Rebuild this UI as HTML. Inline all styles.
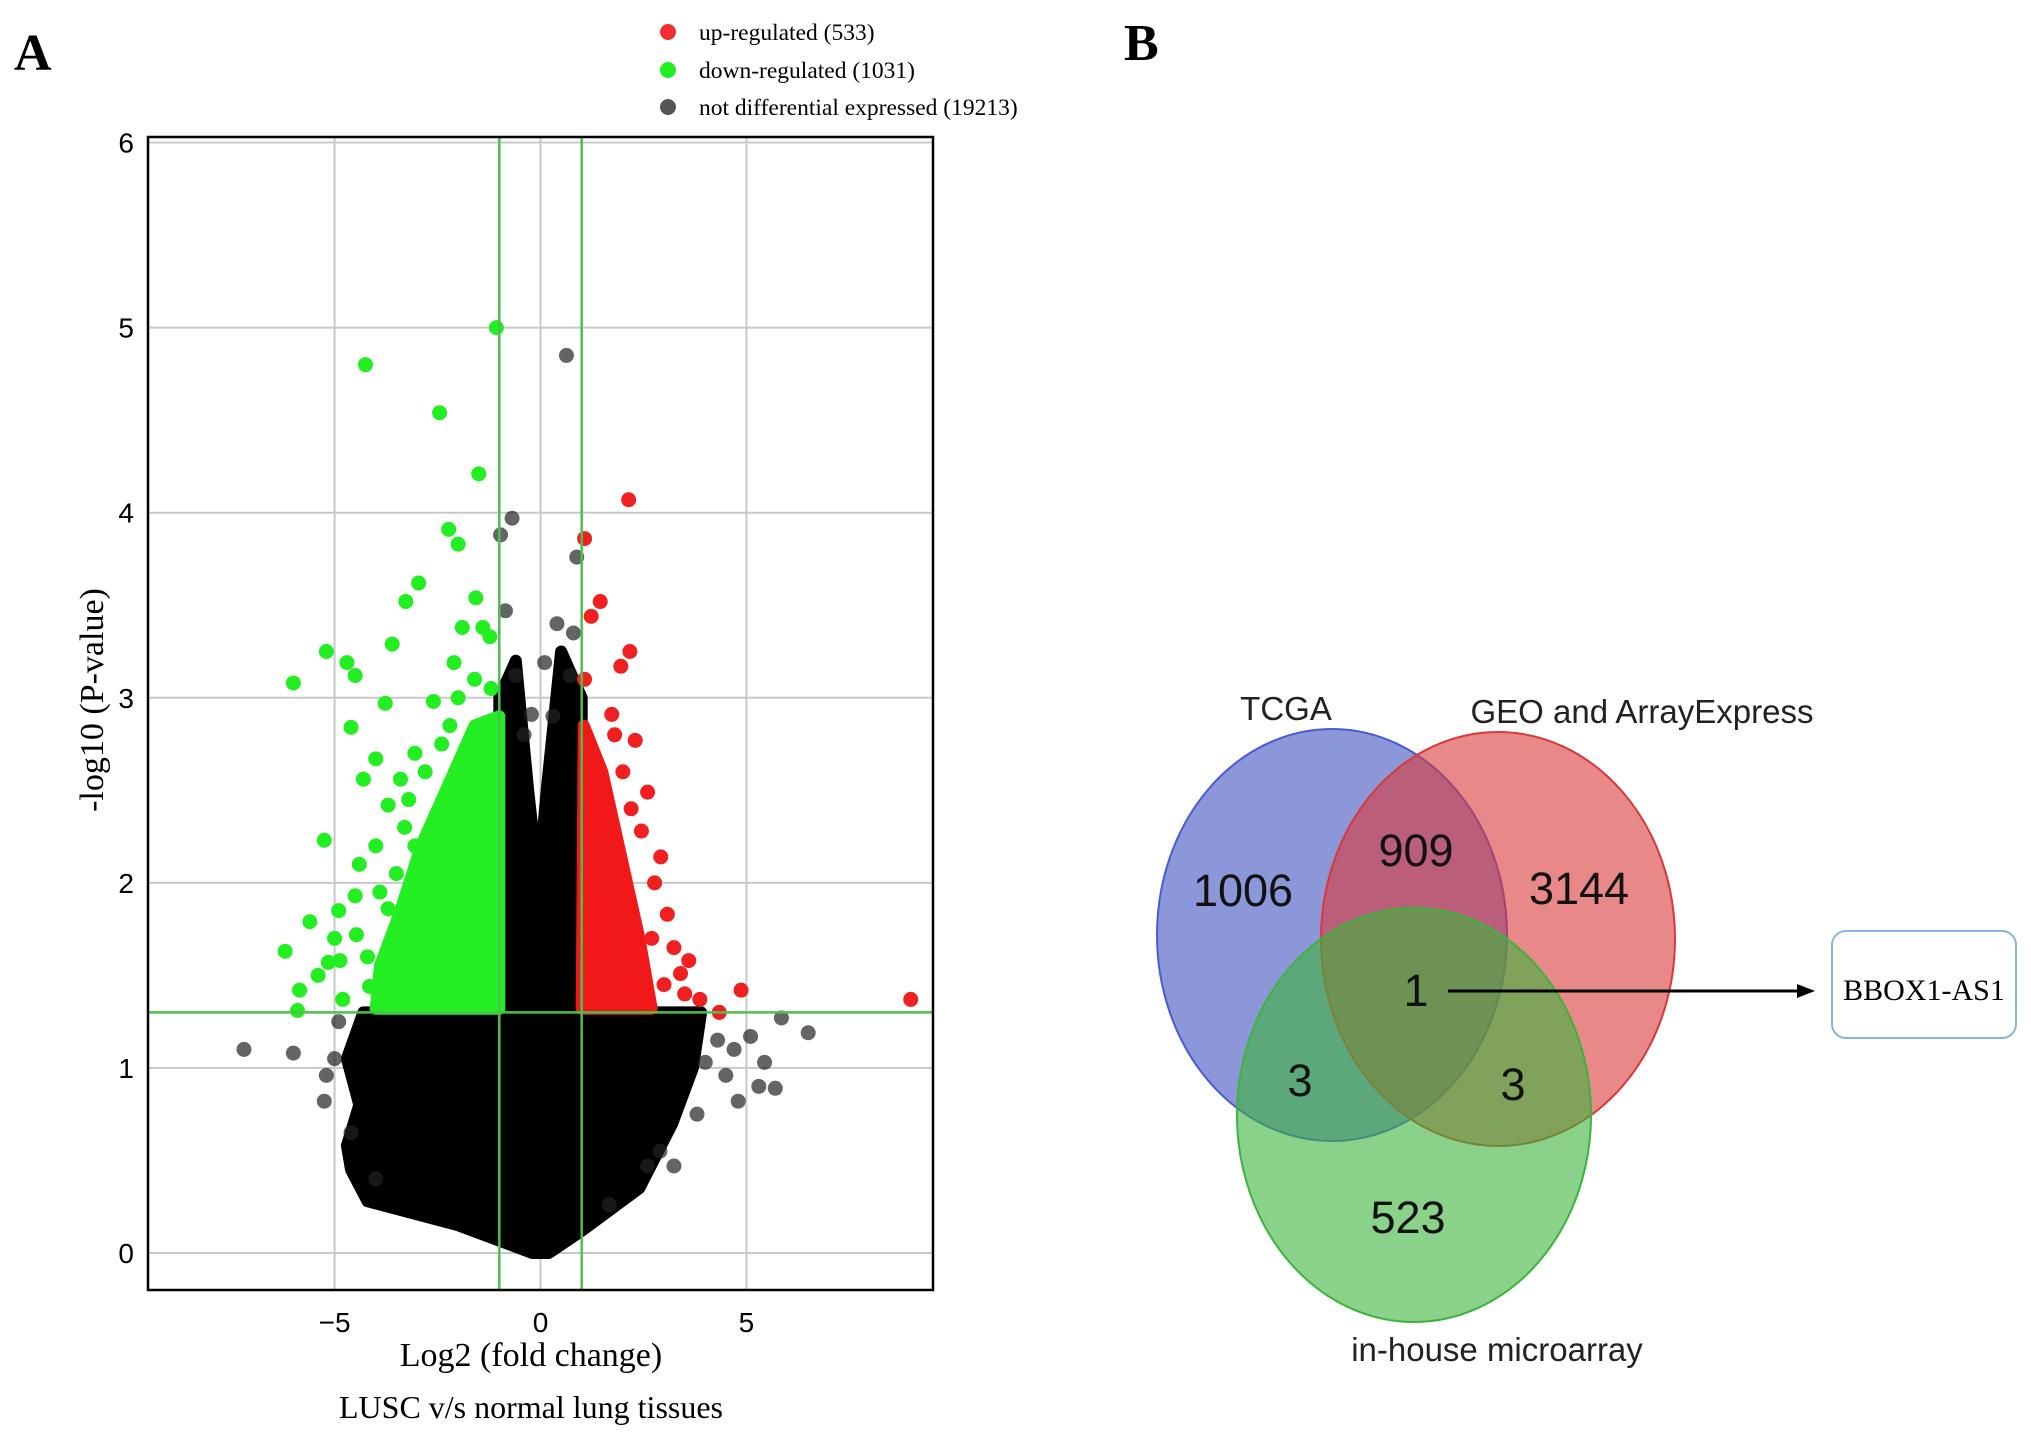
<!DOCTYPE html>
<html><head><meta charset="utf-8"><style>
html,body{margin:0;padding:0;background:#fff}
svg{display:block}
</style></head><body>
<svg id="fig" width="2031" height="1440" viewBox="0 0 2031 1440" xmlns="http://www.w3.org/2000/svg">
<text x="14" y="70" font-family="Liberation Serif, serif" font-weight="bold" font-size="52">A</text>
<text x="1124" y="60" font-family="Liberation Serif, serif" font-weight="bold" font-size="52">B</text>
<g id="legend" font-family="Liberation Serif, serif" font-size="23.5">
 <g><circle cx="668" cy="32" r="8" fill="#f03030"/><text x="699" y="40">up-regulated (533)</text></g>
 <g><circle cx="668" cy="70" r="8" fill="#22ee22"/><text x="699" y="78">down-regulated (1031)</text></g>
 <g><circle cx="668" cy="107" r="8" fill="#555"/><text x="699" y="115">not differential expressed (19213)</text></g>
</g>
<g id="plot"></g>
<text transform="translate(103,700) rotate(-90)" text-anchor="middle" font-family="Liberation Serif, serif" font-size="34">-log10 (P-value)</text>
<text x="531" y="1366" text-anchor="middle" font-family="Liberation Serif, serif" font-size="34">Log2 (fold change)</text>
<text x="531" y="1418" text-anchor="middle" font-family="Liberation Serif, serif" font-size="32">LUSC v/s normal lung tissues</text>

<g id="venn">
 <ellipse cx="1332" cy="935" rx="175" ry="206" fill="#3f51c0" fill-opacity="0.6" stroke="#4a5ad0" stroke-width="2"/>
 <ellipse cx="1498" cy="939" rx="177" ry="207" fill="#d83838" fill-opacity="0.6" stroke="#d83838" stroke-width="2"/>
 <ellipse cx="1414" cy="1115" rx="177" ry="207" fill="#3cb43c" fill-opacity="0.6" stroke="#3cb43c" stroke-width="2"/>
 <g font-family="Liberation Sans, sans-serif" font-size="33" fill="#222">
  <text x="1286" y="720" text-anchor="middle">TCGA</text>
  <text x="1642" y="723" text-anchor="middle">GEO and ArrayExpress</text>
  <text x="1497" y="1361" text-anchor="middle">in-house microarray</text>
 </g>
 <g font-family="Liberation Sans, sans-serif" font-size="45" fill="#111" text-anchor="middle">
  <text x="1243" y="906">1006</text>
  <text x="1416" y="866">909</text>
  <text x="1579" y="904">3144</text>
  <text x="1416" y="1006">1</text>
  <text x="1300" y="1096">3</text>
  <text x="1513" y="1100">3</text>
  <text x="1408" y="1233">523</text>
 </g>
 <line x1="1448" y1="991" x2="1800" y2="991" stroke="#000" stroke-width="3"/>
 <polygon points="1815,991 1797,984 1797,998" fill="#000"/>
 <rect x="1832" y="931" width="184" height="107" rx="14" fill="#fff" stroke="#8ab4dc" stroke-width="2"/>
 <text x="1924" y="1000" text-anchor="middle" font-family="Liberation Serif, serif" font-size="30">BBOX1-AS1</text>
</g>
</svg>
<script>
const xTicks=[-5,0,5];
const yTicks=[0,1,2,3,4,5,6];
const blackEnvelope=[[-0.2,0],[-2,0.15],[-4.2,0.28],[-4.6,0.45],[-4.7,0.58],[-4.4,0.8],[-4.7,1.05],[-4.3,1.3],[-1,1.3],[-1,3.0],[-0.6,3.2],[-0.3,2.5],[-0.05,2.0],[0.15,2.5],[0.5,3.25],[1,3.0],[1,1.3],[3.9,1.3],[3.7,1.0],[3.2,0.7],[2.4,0.35],[1.0,0.12],[0.2,0]];
const greenEnvelope=[[-1,1.32],[-4,1.32],[-3.9,1.55],[-3.4,1.85],[-2.9,2.2],[-2.3,2.5],[-1.6,2.85],[-1,2.9]];
const redEnvelope=[[1,1.32],[2.7,1.32],[2.4,1.7],[1.9,2.2],[1.5,2.6],[1.05,2.85]];
const greenX=[-1.07,-4.25,-2.45,-1.5,-2.23,-2.0,-2.96,-3.27,-1.57,-6.0,-5.2,-4.7,-4.5,-3.6,-3.77,-5.25,-4.6,-6.2,-5.6,-5.85,-5.9,-5.15,-4.87,-4.5,-4.3,-4.0,-3.7,-3.05,-2.6,-2.1,-1.9,-1.4,-1.23,-3.4,-4.0,-4.47,-3.7,-3.05,-4.8,-4.15,-2.4,-2.8,-3.3,-4.4,-4.9,-5.4,-3.9,-3.5,-2.0,-1.6,-1.2,-4.2,-5.0,-3.2,-2.2];
const greenY=[5.0,4.8,4.54,4.21,3.91,3.83,3.62,3.52,3.54,3.08,3.25,3.19,3.12,3.29,2.97,2.23,2.84,1.63,1.79,1.42,1.31,1.57,1.58,1.93,2.56,2.67,2.42,2.7,2.98,3.19,3.38,3.38,3.33,2.56,2.2,1.72,1.86,2.2,1.37,1.44,2.75,2.6,2.3,2.1,1.85,1.5,1.95,2.05,3.0,3.1,3.05,1.6,1.7,2.45,2.85];
const redX=[2.14,1.07,1.45,1.23,2.17,1.95,1.07,1.73,2.3,2.6,2.77,3.08,3.24,3.6,3.87,4.34,4.87,8.99,2.45,2.92,3.4,2.0,2.7,3.0,3.5,2.2,1.8];
const redY=[4.07,3.86,3.52,3.44,3.25,3.17,3.1,2.91,2.77,2.49,2.0,1.83,1.65,1.58,1.37,1.3,1.42,1.37,2.28,2.14,1.51,2.6,1.7,1.45,1.4,2.4,2.8];
const greyX=[0.63,-0.69,-0.97,0.88,-7.2,-6.0,-5.2,6.5,5.85,5.44,5.7,4.8,4.5,3.24,1.67,-0.85,0.4,0.1,-0.6,0.72,-0.22,-5.25,4.0,5.1,2.6,-4.9,-4.6,-5.0,4.3,4.7,5.3,3.8,2.9,-4.0,0.8,-0.4,0.3];
const greyY=[4.85,3.97,3.88,3.76,1.1,1.08,0.96,1.19,1.27,1.03,0.89,0.82,0.96,0.47,0.26,3.47,3.4,3.19,3.12,3.12,2.91,0.82,1.03,1.17,0.47,1.25,0.65,1.05,1.15,1.1,0.9,0.75,0.55,0.4,3.35,2.8,2.9];
const foldCut=1, pCut=1.3;

const NS='http://www.w3.org/2000/svg';
const L=148,R=933,T=137,B=1290;
const xmin=-9.53,xmax=9.53,ymin=-0.2,ymax=6.03;
const sx=v=>L+(v-xmin)/(xmax-xmin)*(R-L);
const sy=v=>B-(v-ymin)/(ymax-ymin)*(B-T);
const plot=document.getElementById('plot');
function mk(tag,attrs,parent){const e=document.createElementNS(NS,tag);for(const k in attrs)e.setAttribute(k,attrs[k]);(parent||plot).appendChild(e);return e;}

xTicks.forEach(t=>{
 const g=mk('line',{x1:sx(t),x2:sx(t),y1:T,y2:B,stroke:'#c8c8c8','stroke-width':2});
 
 
 const tx=mk('text',{x:sx(t),y:B+42,'text-anchor':'middle','font-family':'Liberation Sans, sans-serif','font-size':28});
 tx.textContent=t<0?'\u2212'+Math.abs(t):String(t);
 
 
});
yTicks.forEach(t=>{
 const g=mk('line',{x1:L,x2:R,y1:sy(t),y2:sy(t),stroke:'#c8c8c8','stroke-width':2});
 
 
 const tx=mk('text',{x:L-14,y:sy(t)+10,'text-anchor':'end','font-family':'Liberation Sans, sans-serif','font-size':28});
 tx.textContent=String(t);
 
 
});
function poly(arr,fill,name){
 const p=mk('polygon',{points:arr.map(d=>sx(d[0])+','+sy(d[1])).join(' '),fill:fill,stroke:fill,'stroke-width':12,'stroke-linejoin':'round'});
 
 
}
poly(blackEnvelope,'#000','not-diff-density');
poly(greenEnvelope,'#22ee22','down-density');
poly(redEnvelope,'#f01818','up-density');
function pts(xs,ys,fill,op,name){
 xs.forEach((x,i)=>{
  const c=mk('circle',{cx:sx(x),cy:sy(ys[i]),r:7.5,fill:fill,'fill-opacity':op});
  
  
 });
}
pts(greyX,greyY,'#222',0.7,'not-diff-point');
pts(greenX,greenY,'#22ee22',1,'down-point');
pts(redX,redY,'#f02020',1,'up-point');
[-foldCut,foldCut].forEach(v=>{
 const l=mk('line',{x1:sx(v),x2:sx(v),y1:T,y2:B,stroke:'#4cc04c','stroke-width':2.5});
 
 
});
const h=mk('line',{x1:L,x2:R,y1:sy(pCut),y2:sy(pCut),stroke:'#4cc04c','stroke-width':2.5});


const fr=mk('rect',{x:L,y:T,width:R-L,height:B-T,fill:'none',stroke:'#000','stroke-width':2.5});


</script>
</body></html>
